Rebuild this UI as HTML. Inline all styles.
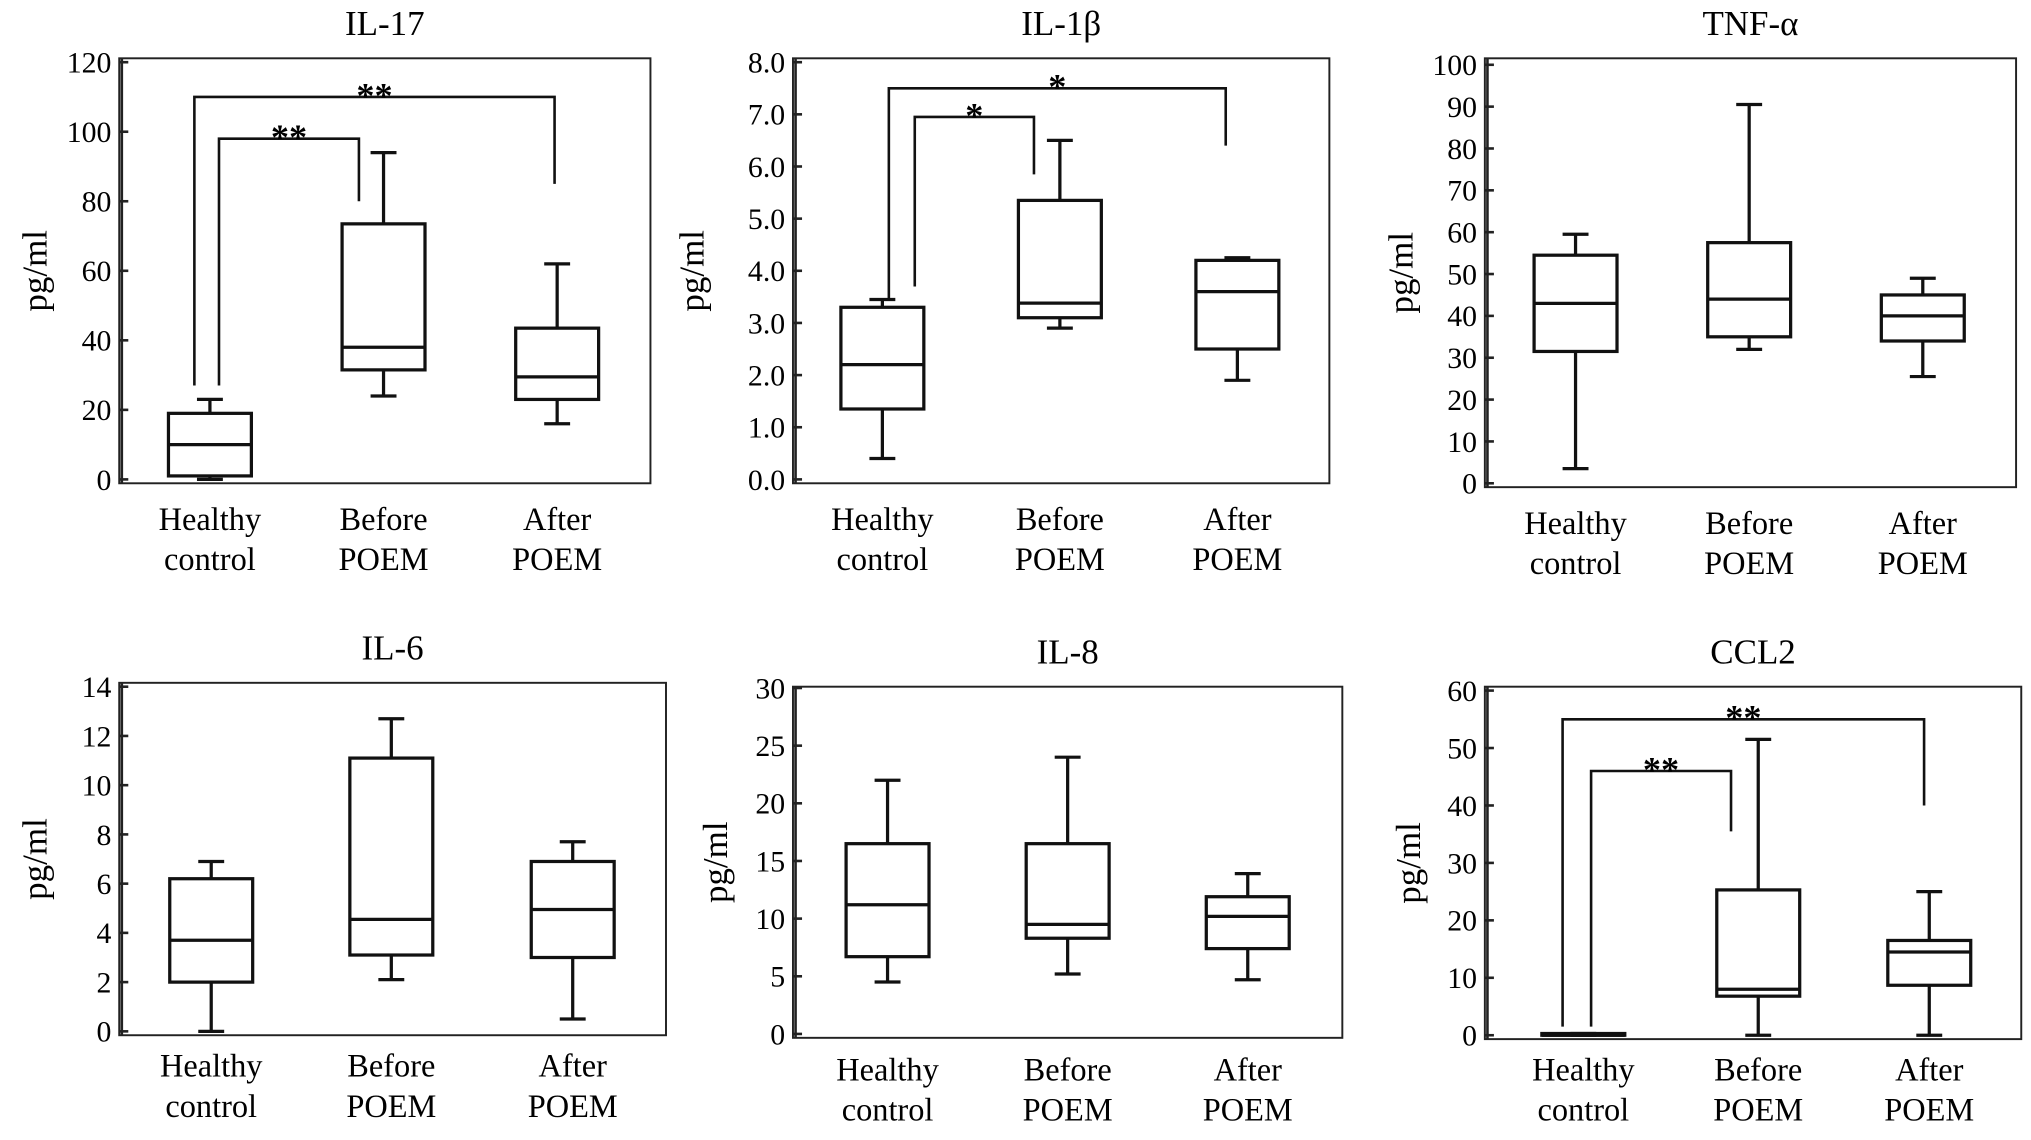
<!DOCTYPE html>
<html><head><meta charset="utf-8"><style>
html,body{margin:0;padding:0;background:#fff;}
svg, svg text{font-family:"Liberation Serif","Times New Roman",serif;}
</style></head><body>
<svg id="fig" width="2031" height="1135" viewBox="0 0 1567.5 876" xmlns="http://www.w3.org/2000/svg" font-family="Liberation Serif, serif"></svg>
<script>
const categories = [["Healthy","control"],["Before","POEM"],["After","POEM"]];
// [whiskerLow, q1, median, q3, whiskerHigh]
const il17Values = [[0,1,10,19,23],[24,31.5,38,73.5,94],[16,23,29.5,43.5,62]];
const il1bValues = [[0.4,1.35,2.2,3.3,3.45],[2.9,3.1,3.38,5.35,6.5],[1.9,2.5,3.6,4.2,4.25]];
const tnfValues = [[3.5,31.5,43,54.5,59.5],[32,35,44,57.5,90.5],[25.5,34,40,45,49]];
const il6Values = [[0,2,3.7,6.2,6.9],[2.1,3.1,4.55,11.1,12.7],[0.5,3.0,4.95,6.9,7.7]];
const il8Values = [[4.5,6.7,11.2,16.5,22],[5.2,8.3,9.5,16.5,24],[4.7,7.4,10.2,11.9,13.9]];
const ccl2Values = [[0,0,0,0.3,0.3],[0,6.8,8,25.3,51.5],[0,8.7,14.5,16.5,25]];
const il17Ticks = [0,20,40,60,80,100,120];
const il1bTicks = [0,1,2,3,4,5,6,7,8];
const tnfTicks = [0,10,20,30,40,50,60,70,80,90,100];
const il6Ticks = [0,2,4,6,8,10,12,14];
const il8Ticks = [0,5,10,15,20,25,30];
const ccl2Ticks = [0,10,20,30,40,50,60];
// brackets: [fromCat, toCat, barValue, leftEndValue, rightEndValue, label, xOffsetLeft, xOffsetRight]
const il17Brackets = [[0,2,110,27,85,"**",-12,-2],[0,1,98,27,80,"**",7,-19]];
const il1bBrackets = [[0,2,7.5,3.45,6.4,"*",5,-9],[0,1,6.95,3.7,5.85,"*",25,-20]];
const ccl2Brackets = [[0,2,55,1.5,40,"**",-16,-4],[0,1,46,1.5,35.5,"**",6,-21]];

const panels = [
 {name:"il-17",title:"IL-17",x0:92,x1:502,y0:45,y1:373,yb:370,yt:48,vmax:120,ticks:il17Ticks,dec:0,cats:[162,296,430],ly:401,vals:il17Values,br:il17Brackets,ylx:28},
 {name:"il-1b",title:"IL-1β",x0:612,x1:1026,y0:45,y1:373,yb:370,yt:48,vmax:8,ticks:il1bTicks,dec:1,cats:[681,818,955],ly:401,vals:il1bValues,br:il1bBrackets,ylx:535},
 {name:"tnf-a",title:"TNF-α",x0:1146,x1:1556,y0:45,y1:376,yb:373,yt:50,vmax:100,ticks:tnfTicks,dec:0,cats:[1216,1350,1484],ly:404,vals:tnfValues,br:[],ylx:1082},
 {name:"il-6",title:"IL-6",x0:92,x1:514,y0:527,y1:799,yb:796,yt:530,vmax:14,ticks:il6Ticks,dec:0,cats:[163,302,442],ly:823,vals:il6Values,br:[],ylx:28},
 {name:"il-8",title:"IL-8",x0:612,x1:1036,y0:530,y1:801,yb:798,yt:531,vmax:30,ticks:il8Ticks,dec:0,cats:[685,824,963],ly:826,vals:il8Values,br:[],ylx:553},
 {name:"ccl2",title:"CCL2",x0:1146,x1:1560,y0:530,y1:802,yb:799,yt:533,vmax:60,ticks:ccl2Ticks,dec:0,cats:[1222,1357,1489],ly:826,vals:ccl2Values,br:ccl2Brackets,ylx:1088}
];
const NS="http://www.w3.org/2000/svg";
const FF='"Liberation Serif", serif';
const svg=document.getElementById('fig');
function mk(tag,attrs,parent){const e=document.createElementNS(NS,tag);for(const k in attrs)e.setAttribute(k,attrs[k]);if(tag==='text')e.style.fontFamily=FF;(parent||svg).appendChild(e);return e;}
panels.forEach(p=>{
 const g=mk('g',{});
 
 
 const y=v=>p.yb-(v/p.vmax)*(p.yb-p.yt);
 const t=mk('text',{x:(p.x0+p.x1)/2,y:p.y0-18,'text-anchor':'middle','font-size':27},g);t.textContent=p.title;
 
 
 const fr=mk('rect',{x:p.x0,y:p.y0,width:p.x1-p.x0,height:p.y1-p.y0,fill:'none',stroke:'#222','stroke-width':1.5},g);
 
 
 mk('line',{x1:p.x0+2,y1:p.y0,x2:p.x0+2,y2:p.y1,stroke:'#222','stroke-width':2},g);
 p.ticks.forEach(v=>{
  mk('line',{x1:p.x0,x2:p.x0+7,y1:y(v),y2:y(v),stroke:'#222','stroke-width':2},g);
  const tl=mk('text',{x:p.x0-6,y:y(v)+8,'text-anchor':'end','font-size':23},g);
  tl.textContent=v.toFixed(p.dec);
  
  
 });
 const yl=mk('text',{x:0,y:0,'text-anchor':'middle','font-size':27,transform:`translate(${p.ylx+8},${(p.y0+p.y1)/2}) rotate(-90)`},g);
 yl.textContent='pg/ml';
 
 
 p.vals.forEach((d,i)=>{
  const cx=p.cats[i];
  const bg=mk('g',{stroke:'#111','stroke-width':2.5,fill:'none'},g);
  
  
  mk('line',{x1:cx,x2:cx,y1:y(d[0]),y2:y(d[1])},bg);
  mk('line',{x1:cx,x2:cx,y1:y(d[3]),y2:y(d[4])},bg);
  mk('line',{x1:cx-10,x2:cx+10,y1:y(d[0]),y2:y(d[0])},bg);
  mk('line',{x1:cx-10,x2:cx+10,y1:y(d[4]),y2:y(d[4])},bg);
  mk('rect',{x:cx-32,y:y(d[3]),width:64,height:Math.max(1,y(d[1])-y(d[3]))},bg);
  mk('line',{x1:cx-32,x2:cx+32,y1:y(d[2]),y2:y(d[2])},bg);
  categories[i].forEach((s,j)=>{
   const cl=mk('text',{x:cx,y:p.ly+j*31+8,'text-anchor':'middle','font-size':25},g);
   cl.textContent=s;
   
   
  });
 });
 p.br.forEach(b=>{
  const xa=p.cats[b[0]]+b[6], xb=p.cats[b[1]]+b[7], yb=y(b[2]);
  const br=mk('path',{d:`M${xa},${y(b[3])} V${yb} H${xb} V${y(b[4])}`,fill:'none',stroke:'#111','stroke-width':2},g);
  
  
  const st=mk('text',{x:(xa+xb)/2,y:yb+8,'text-anchor':'middle','font-size':28,'font-weight':'bold'},g);
  st.textContent=b[5];
  
  
 });
});
</script>
</body></html>
